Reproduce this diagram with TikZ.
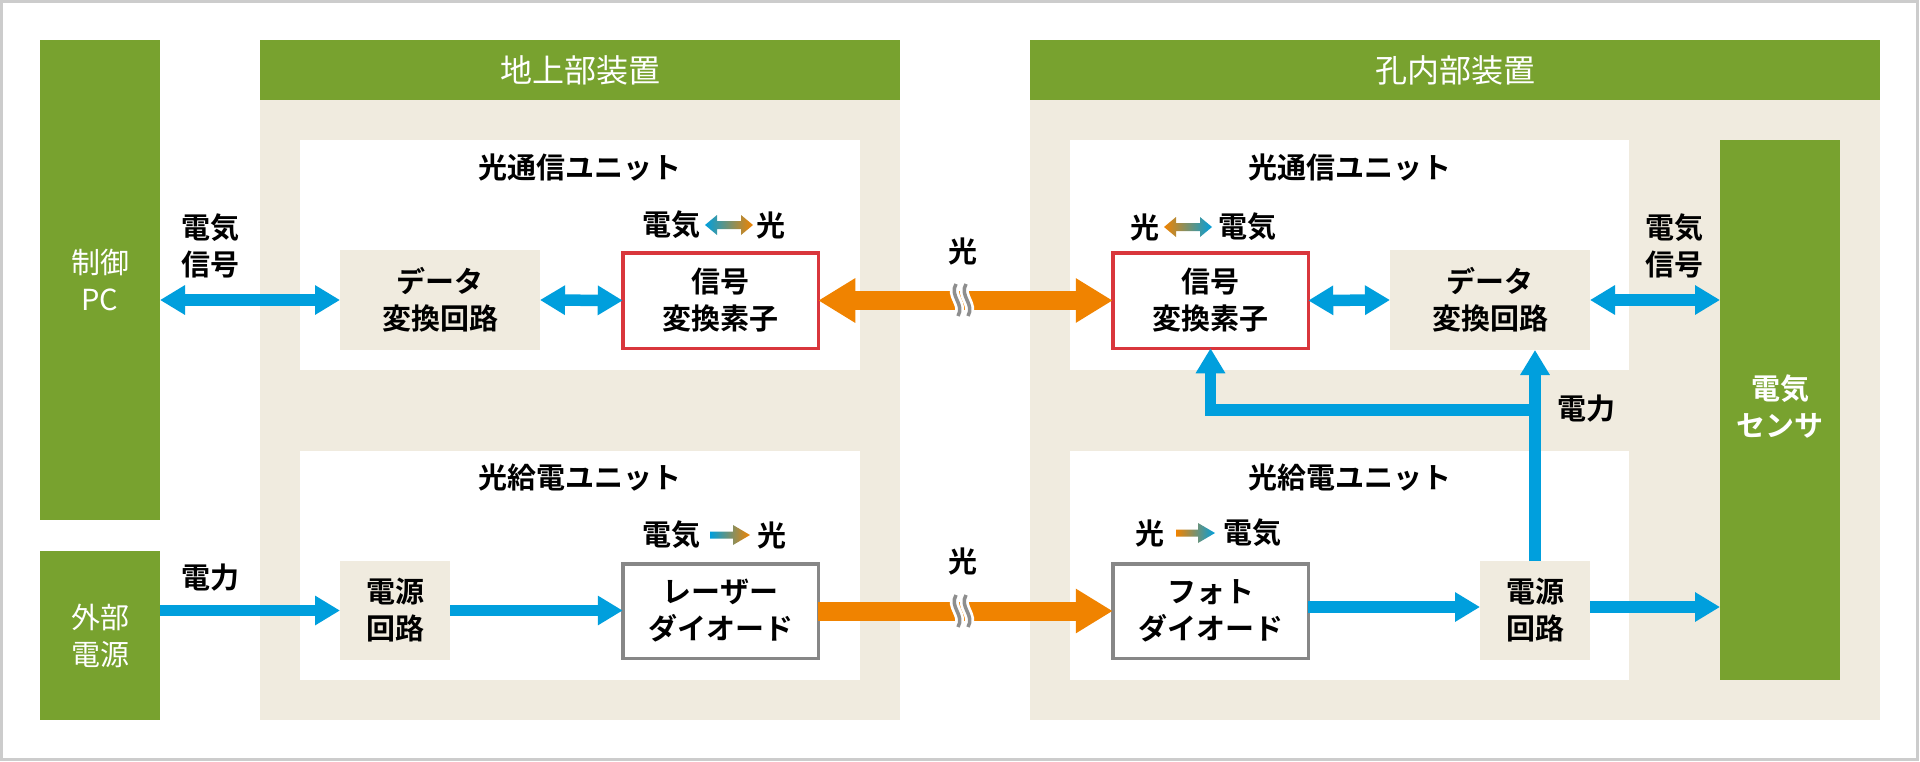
\documentclass[tikz,border=0pt]{standalone}
\usepackage{fontspec}
\setmainfont{Noto Sans CJK JP}[BoldFont={Noto Sans CJK JP Bold}]
\usetikzlibrary{arrows.meta,calc}
\definecolor{grn}{HTML}{78A22F}
\definecolor{tanc}{HTML}{F0EBDF}
\definecolor{blu}{HTML}{009FDD}
\definecolor{org}{HTML}{F08300}
\definecolor{redb}{HTML}{D9363C}
\definecolor{grayb}{HTML}{878787}
\definecolor{bord}{HTML}{CCCCCC}
\definecolor{sqg}{HTML}{8E8E8E}
\newcommand\jtxt{\fontsize{29}{37}\selectfont\bfseries}
\newcommand\jtxtr{\fontsize{29}{37}\selectfont}
\begin{document}
\begin{tikzpicture}[x=1pt,y=-1pt,
  every node/.style={inner sep=0pt, outer sep=0pt},
  lbl/.style={font=\jtxt, align=center, text=black},
  hdr/.style={fill=grn, text=white, font=\fontsize{32}{38}\selectfont, minimum height=60pt},
  grnbox/.style={fill=grn, text=white, font=\jtxtr, align=center},
  tanbox/.style={fill=tanc, font=\jtxt, align=center},
  unitbox/.style={fill=white},
  redbox/.style={fill=white, draw=redb, line width=3.5pt, font=\jtxt, align=center, minimum width=195.5pt, minimum height=95.5pt},
  graybox/.style={fill=white, draw=grayb, line width=3.5pt, font=\jtxt, align=center, minimum width=195.5pt, minimum height=94.5pt},
  barrow/.style={draw=blu, line width=11.5pt, line join=miter},
  bdouble/.style={barrow, {Triangle[length=25pt,width=28pt]}-{Triangle[length=25pt,width=28pt]}},
  bsingle/.style={barrow, -{Triangle[length=25pt,width=28pt]}},
  oarrow/.style={draw=org, line width=19pt},
  odouble/.style={oarrow, {Triangle[length=37pt,width=42pt]}-{Triangle[length=37pt,width=42pt]}},
  osingle/.style={oarrow, -{Triangle[length=37pt,width=42pt]}},
]
\useasboundingbox (0,0) rectangle (1920,761);
\fill[white] (0,0) rectangle (1920,761);
\draw[bord, line width=3pt] (1.5,1.5) rectangle (1917,759);

% outer devices
\node[grnbox, minimum width=120pt, minimum height=480pt] (pc) at (100,280) {制御\\PC};
\node[grnbox, minimum width=120pt, minimum height=169pt] (ext) at (100,635.5) {外部\\電源};
\node[hdr, minimum width=640pt] (ghdr) at (580,70) {地上部装置};
\node[fill=tanc, minimum width=640pt, minimum height=620pt, anchor=north] (gbody) at (ghdr.south) {};
\node[hdr, minimum width=850pt] (dhdr) at (1455,70) {孔内部装置};
\node[fill=tanc, minimum width=850pt, minimum height=620pt, anchor=north] (dbody) at (dhdr.south) {};

% units
\node[unitbox, minimum width=560pt, minimum height=230pt] (gcom) at (580,255) {};
\node[unitbox, minimum width=560pt, minimum height=229pt] (gpwu) at (580,565.5) {};
\node[unitbox, minimum width=559pt, minimum height=230pt] (dcom) at (1349.5,255) {};
\node[unitbox, minimum width=559pt, minimum height=229pt] (dpwu) at (1349.5,565.5) {};
\node[grnbox, minimum width=120pt, minimum height=540pt] (sens) at (1780,410) {};
\node[lbl, text=white] (senst) at (1780,407) {電気\\センサ};

\node[lbl] (gcomt) at (580,168) {光通信ユニット};
\node[lbl] (gpwut) at (580,478) {光給電ユニット};
\node[lbl] (dcomt) at (1349.5,168) {光通信ユニット};
\node[lbl] (dpwut) at (1349.5,478) {光給電ユニット};

% inner boxes
\node[tanbox, minimum width=200pt, minimum height=100pt] (gdata) at (440,300) {データ\\変換回路};
\node[redbox] (gsig) at (720.5,300.5) {信号\\変換素子};
\node[tanbox, minimum width=110pt, minimum height=99pt] (gpow) at (395,610.5) {電源\\回路};
\node[graybox] (laser) at (720.5,611) {レーザー\\ダイオード};
\node[redbox] (dsig) at (1210.5,300.5) {信号\\変換素子};
\node[tanbox, minimum width=200pt, minimum height=100pt] (ddata) at (1490,300) {データ\\変換回路};
\node[graybox] (photo) at (1210.5,611) {フォト\\ダイオード};
\node[tanbox, minimum width=110pt, minimum height=99pt] (dpow) at (1535,610.5) {電源\\回路};

% labels
\node[lbl] (lsig1) at (210,246) {電気\\信号};
\node[lbl] (lsig2) at (1674,246) {電気\\信号};
\node[lbl] (lpow1) at (210,578) {電力};
\node[lbl] (lpow2) at (1586,409) {電力};
\node[lbl] (lopt1) at (963,251) {光};
\node[lbl] (lopt2) at (963,561) {光};

\node[lbl] (a1) at (671,225) {電気};
\node[lbl] (a2) at (771,225) {光};
\node[lbl] (b1) at (1145,227) {光};
\node[lbl] (b2) at (1247,227) {電気};
\node[lbl] (c1) at (671,535) {電気};
\node[lbl] (c2) at (772,535) {光};
\node[lbl] (d1) at (1150,533) {光};
\node[lbl] (d2) at (1252,533) {電気};

% gradient icons
\shade[left color=blu, right color=org] (705,225) -- (717,215) -- (717,221) -- (741,221) -- (741,215) -- (753,225) -- (741,235) -- (741,229) -- (717,229) -- (717,235) -- cycle;
\shade[left color=org, right color=blu] (1164,227) -- (1176,217) -- (1176,223) -- (1200,223) -- (1200,217) -- (1212,227) -- (1200,237) -- (1200,231) -- (1176,231) -- (1176,237) -- cycle;
\shade[left color=blu, right color=org] (710,531.5) -- (733,531.5) -- (733,525) -- (750,535) -- (733,545) -- (733,538.5) -- (710,538.5) -- cycle;
\shade[left color=org, right color=blu] (1176,529.5) -- (1198,529.5) -- (1198,523) -- (1215,533) -- (1198,543) -- (1198,536.5) -- (1176,536.5) -- cycle;

% connectors
\draw[bdouble] (pc.east |- gdata.west) -- (gdata.west);
\draw[bdouble] (gdata.east) -- (gsig.west);
\draw[odouble] (gsig.east) -- (dsig.west);
\draw[bdouble] (dsig.east) -- (ddata.west);
\draw[bdouble] (ddata.east) -- (sens.west |- ddata.east);

\draw[bsingle] (ext.east |- gpow.west) -- (gpow.west);
\draw[bsingle] (gpow.east) -- (laser.west |- gpow.east);
\draw[osingle] (laser.east) -- (photo.west);
\coordinate (r2) at (0,607);
\draw[bsingle] (photo.east |- r2) -- (dpow.west |- r2);
\draw[bsingle] (dpow.east |- r2) -- (sens.west |- r2);

\coordinate (br) at (1535,410);
\draw[bsingle] (dpow.north) -- (dpow.north |- ddata.south);
\draw[bsingle] ([xshift=5.75pt]br) -| (dsig.south);

% break marks
\foreach \yy in {300,611}{
  \foreach \dx in {-5,5}{
    \draw[white, line width=9pt] (962+\dx-1,\yy-16) .. controls (962+\dx-8,\yy-4) and (962+\dx+8,\yy+4) .. (962+\dx+1,\yy+16);
  }
  \foreach \dx in {-5,5}{
    \draw[sqg, line width=3.5pt] (962+\dx-1,\yy-16) .. controls (962+\dx-8,\yy-4) and (962+\dx+8,\yy+4) .. (962+\dx+1,\yy+16);
  }
}
\end{tikzpicture}
\end{document}
